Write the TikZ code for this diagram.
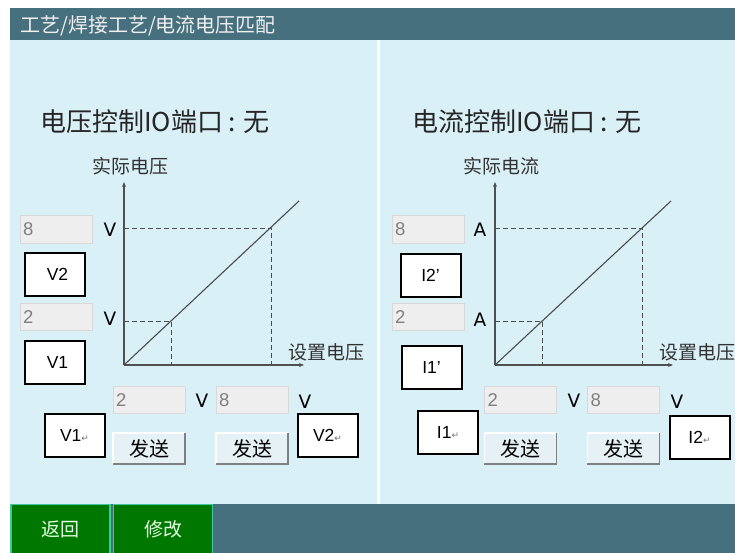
\documentclass[tikz,border=0pt]{standalone}
\usepackage{fontspec}
\setmainfont{Liberation Sans}
\newfontfamily\cjk{Noto Sans CJK SC}
\newfontfamily\dvs{DejaVu Sans}
\usetikzlibrary{arrows.meta}
\definecolor{hdr}{HTML}{46707D}
\definecolor{pnl}{HTML}{DAF0F7}
\definecolor{grn}{HTML}{007800}
\definecolor{grnb}{HTML}{3CC8A0}
\definecolor{fldf}{HTML}{EEEEEE}
\definecolor{fldb}{HTML}{D8D8D8}
\definecolor{fldt}{HTML}{808080}
\definecolor{btnf}{HTML}{E6F1F5}
\definecolor{axc}{HTML}{505050}
\tikzset{
  heading/.style={anchor=west, inner sep=0, font=\cjk\fontsize{26}{29}\selectfont, text=black!85},
  axlabel/.style={anchor=west, inner sep=0, font=\cjk\fontsize{19}{22}\selectfont, text=black!80},
  unitlbl/.style={inner sep=0, font=\dvs\fontsize{18.5}{21}\selectfont, text=black},
  field/.style={draw=fldb, fill=fldf, line width=1, text width=66, inner xsep=3, minimum height=27, align=left, font=\fontsize{18.5}{21}\selectfont, text=fldt},
  valbox/.style={draw=black, line width=2, fill=white, minimum width=60, minimum height=43, inner sep=0, font=\fontsize{17.5}{20}\selectfont},
  sendbtn/.style={fill=btnf, minimum width=72, minimum height=31, inner sep=0, font=\cjk\fontsize{20}{22}\selectfont},
  navbtn/.style={draw=grnb, line width=1.5, fill=grn, minimum width=99, minimum height=49, inner sep=0, font=\cjk\fontsize{19}{22}\selectfont, text=white!90!green},
  axis/.style={draw=axc, line width=1.6, -{Stealth[length=5,width=4]}},
  diag/.style={draw=black!70, line width=1.1},
  guide/.style={draw=black!70, line width=1, dash pattern=on 5 off 3},
}
\newcommand{\retmark}{{\dvs\fontsize{9}{10}\selectfont\color{black!55}↵}}
\begin{document}
\begin{tikzpicture}[x=1pt,y=-1pt]
\useasboundingbox (0,0) rectangle (735,553);
\fill[white] (0,0) rectangle (735,553);
% frame
\fill[hdr] (10,8) rectangle (735,40);
\fill[pnl] (10,40) rectangle (735,504);
\fill[white] (377,40) rectangle (379.5,504);
\fill[hdr] (10,504) rectangle (735,553);
\node[anchor=west, inner sep=0, font=\cjk\fontsize{20}{22}\selectfont, text=white!94!black] (title) at (20,26) {工艺/焊接工艺/电流电压匹配};
% bottom nav
\node[navbtn] (back) at (60.5,529) {返回};
\node[navbtn] (edit) at (163,529) {修改};

% ===== left: voltage =====
\node[heading] (hL) at (40,122) {电压控制IO端口 : 无};
\node[axlabel] (ylL) at (92,166) {实际电压};
\node[axlabel] (xlL) at (288,352) {设置电压};
\coordinate (oL) at (124,365);
\coordinate (ytL) at (124,182);
\coordinate (xtL) at (304,365);
\coordinate (deL) at (299,201);
\coordinate (pAL) at (271,228);
\coordinate (pBL) at (171,321);
\coordinate (yAL) at (124,228);
\coordinate (yBL) at (124,321);
\coordinate (xAL) at (271,365);
\coordinate (xBL) at (171,365);
\draw[guide] (yAL) -- (pAL) -- (xAL);
\draw[guide] (yBL) -- (pBL) -- (xBL);
\draw[axis] (oL) -- (ytL);
\draw[axis] (oL) -- (xtL);
\draw[diag] (oL) -- (deL);
\node[field] (f8L) at (56,229.5) {8};
\node[unitlbl] (u8L) at (110,230) {V};
\node[valbox] (v2L) at (54.5,274) {\hspace{6pt}V2};
\node[field] (f2L) at (56,317) {2};
\node[unitlbl] (u2L) at (110,319) {V};
\node[valbox] (v1L) at (54.5,362.5) {\hspace{6pt}V1};
\node[field] (fbL1) at (149,400) {2};
\node[unitlbl] (ub1L) at (202,401) {V};
\node[field] (fbL2) at (252,400) {8};
\node[unitlbl] (ub2L) at (305,402) {V};
\node[valbox] (bv1L) at (74.5,435.5) {V1\retmark};
\node[valbox] (bv2L) at (327.5,435.5) {V2\retmark};
\node[sendbtn] (s1L) at (149,448.5) {发送};
\node[sendbtn] (s2L) at (252,448.5) {发送};

% ===== right: current =====
\node[heading] (hR) at (412,122) {电流控制IO端口 : 无};
\node[axlabel] (ylR) at (463,166) {实际电流};
\node[axlabel] (xlR) at (659,352) {设置电压};
\coordinate (oR) at (495,365);
\coordinate (ytR) at (495,182);
\coordinate (xtR) at (673,365);
\coordinate (deR) at (671,201);
\coordinate (pAR) at (642,228);
\coordinate (pBR) at (542,321);
\coordinate (yAR) at (495,228);
\coordinate (yBR) at (495,321);
\coordinate (xAR) at (642,365);
\coordinate (xBR) at (542,365);
\draw[guide] (yAR) -- (pAR) -- (xAR);
\draw[guide] (yBR) -- (pBR) -- (xBR);
\draw[axis] (oR) -- (ytR);
\draw[axis] (oR) -- (xtR);
\draw[diag] (oR) -- (deR);
\node[field] (f8R) at (428,229.5) {8};
\node[unitlbl] (u8R) at (480,230) {A};
\node[valbox] (i2R) at (430.5,275) {I2’};
\node[field] (f2R) at (428,317) {2};
\node[unitlbl] (u2R) at (480,320) {A};
\node[valbox] (i1R) at (431.5,367.5) {I1’};
\node[field] (fbR1) at (520.5,400) {2};
\node[unitlbl] (ub1R) at (574,401) {V};
\node[field] (fbR2) at (623.5,400) {8};
\node[unitlbl] (ub2R) at (677,402) {V};
\node[valbox] (bi1R) at (448,432.5) {I1\retmark};
\node[valbox] (bi2R) at (699.5,437) {I2\retmark};
\node[sendbtn] (s1R) at (520.5,448.5) {发送};
\node[sendbtn] (s2R) at (623.5,448.5) {发送};

% button bevels
\foreach \b in {s1L,s2L,s1R,s2R}{
  \draw[white, line width=1.5] (\b.south west) -- (\b.north west) -- (\b.north east);
  \draw[black!50, line width=1.5] (\b.north east) -- (\b.south east) -- (\b.south west);
}
\end{tikzpicture}
\end{document}
